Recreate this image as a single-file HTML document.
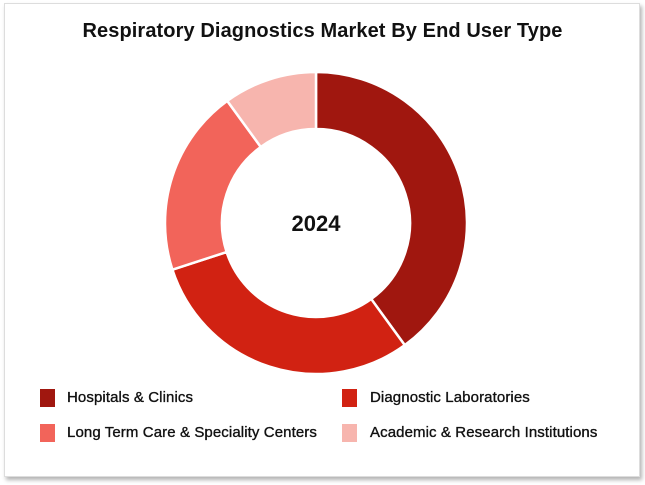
<!DOCTYPE html>
<html><head><style>
body{margin:0;width:645px;height:485px;background:#fff;font-family:"Liberation Sans",sans-serif;position:relative;overflow:hidden}
.card{position:absolute;left:4px;top:3px;width:634px;height:472px;background:#fff;border:1px solid #ddd;box-shadow:2px 3px 4px rgba(0,0,0,.3)}
.t{position:absolute;left:0;width:645px;top:20px;text-align:center;font-size:20px;font-weight:bold;color:#111;letter-spacing:0.1px}
.sq{position:absolute;width:15px;height:18px}
.lb{position:absolute;font-size:15px;color:#111;-webkit-text-stroke:0.35px #111;letter-spacing:0.1px}
</style></head><body>
<div class="card"></div>
<div class="t">Respiratory Diagnostics Market By End User Type</div>
<svg width="645" height="485" style="position:absolute;left:0;top:0">
<g transform="translate(316,223)" stroke="#fff" stroke-width="2.5">
<path d="M0,-151 A151,151 0 0 1 88.75,122.16 L55.25,76.05 A94,94 0 0 0 0,-94Z" fill="#A0170F"/>
<path d="M88.75,122.16 A151,151 0 0 1 -143.61,46.66 L-89.40,29.05 A94,94 0 0 0 55.25,76.05Z" fill="#D12212"/>
<path d="M-143.61,46.66 A151,151 0 0 1 -88.75,-122.16 L-55.25,-76.05 A94,94 0 0 0 -89.40,29.05Z" fill="#F2645A"/>
<path d="M-88.75,-122.16 A151,151 0 0 1 0,-151 L0,-94 A94,94 0 0 0 -55.25,-76.05Z" fill="#F7B5AE"/>
</g>
<text x="316" y="231" text-anchor="middle" font-family="Liberation Sans" font-weight="bold" font-size="22" fill="#111">2024</text>
</svg>
<div class="sq" style="left:40px;top:389px;background:#A0170F"></div>
<div class="lb" style="left:67px;top:389px">Hospitals &amp; Clinics</div>
<div class="sq" style="left:342px;top:389px;background:#D12212"></div>
<div class="lb" style="left:370px;top:389px">Diagnostic Laboratories</div>
<div class="sq" style="left:40px;top:424px;background:#F2645A"></div>
<div class="lb" style="left:67px;top:424px">Long Term Care &amp; Speciality Centers</div>
<div class="sq" style="left:342px;top:424px;background:#F7B5AE"></div>
<div class="lb" style="left:370px;top:424px">Academic &amp; Research Institutions</div>
</body></html>
